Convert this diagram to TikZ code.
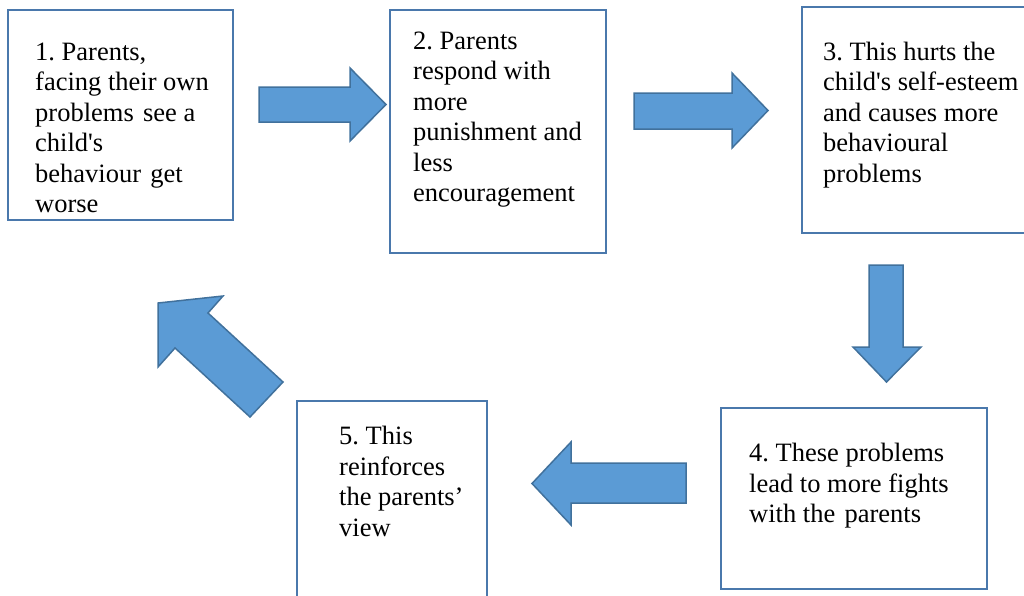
\documentclass[tikz,border=0pt]{standalone}
\usepackage{fontspec}
\setmainfont{Liberation Serif}
\frenchspacing
\definecolor{boxline}{HTML}{4A78AC}
\definecolor{arrowfill}{HTML}{5B9BD5}
\definecolor{arrowline}{HTML}{41719C}
\newcommand{\widesp}{\hspace{0.35em}}
\begin{document}
\begin{tikzpicture}[x=1pt,y=-1pt,
  stepbox/.style={draw=boxline, line width=2pt, fill=white, anchor=north west, inner sep=0pt, outer sep=0pt},
  steptext/.style={anchor=north west, inner sep=0pt, align=left,
    font=\fontsize{26.5}{30.5}\selectfont},
  blockarrow/.style={fill=arrowfill, draw=arrowline, line width=1.5pt, line join=miter}]
\useasboundingbox (0,0) rectangle (1024,595);
\clip (0,0) rectangle (1024,595);

% the five steps of the cycle
\node[stepbox, minimum width=225, minimum height=210] (b1) at (8,10) {};
\node[stepbox, minimum width=216, minimum height=243] (b2) at (390,10) {};
\node[stepbox, minimum width=230, minimum height=226] (b3) at (802,7) {};
\node[stepbox, minimum width=266, minimum height=181] (b4) at (721,408) {};
\node[stepbox, minimum width=190, minimum height=200] (b5) at (297,401) {};

\node[steptext] (t1) at (35,38.5) {\strut 1. Parents,\\facing their own\\problems\widesp see a\\child{\textquotesingle}s\\behaviour\widesp get\\worse};
\node[steptext] (t2) at (413,27.5) {\strut 2. Parents\\respond with\\more\\punishment and\\less\\encouragement};
\node[steptext] (t3) at (823,38.5) {\strut 3. This hurts the\\child{\textquotesingle}s self-esteem\\and causes more\\behavioural\\problems};
\node[steptext] (t4) at (749,440) {\strut 4. These problems\\lead to more fights\\with the\widesp parents};
\node[steptext] (t5) at (339,423) {\strut 5. This\\reinforces\\the parents’\\view};

% block arrows between the steps
\draw[blockarrow] (259,87) -- (350,87) -- (350,68) -- (386,104.5) -- (350,141) -- (350,122) -- (259,122) -- cycle;
\draw[blockarrow] (634,93) -- (732,93) -- (732,73) -- (768,110.5) -- (732,148) -- (732,129) -- (634,129) -- cycle;
\draw[blockarrow] (869,265) -- (903,265) -- (903,347) -- (921,347) -- (886.5,382) -- (853,347) -- (869,347) -- cycle;
\draw[blockarrow] (686,463) -- (686,503) -- (571,503) -- (571,525) -- (532,483.5) -- (571,442) -- (571,463) -- cycle;
\draw[blockarrow] (158,303) -- (223,296) -- (208,313) -- (283,382) -- (250,417) -- (175,348) -- (158,367) -- cycle;
\end{tikzpicture}
\end{document}
